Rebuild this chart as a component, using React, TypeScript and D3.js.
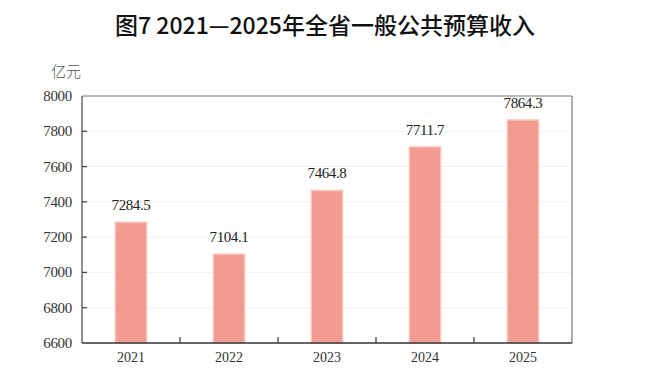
import React from "react";
import * as d3 from "d3";

const years = ["2021", "2022", "2023", "2024", "2025"];
const revenue = [7284.5, 7104.1, 7464.8, 7711.7, 7864.3];
const yTicks = [6600, 6800, 7000, 7200, 7400, 7600, 7800, 8000];
const title = "图7 2021—2025年全省一般公共预算收入";
const unitLabel = "亿元";

const W = 652;
const H = 388;
const m = { left: 82, right: 80, top: 96, bottom: 45 };

export default function App() {
  const x = d3
    .scaleBand<string>()
    .domain(years)
    .range([m.left, W - m.right]);
  const y = d3
    .scaleLinear()
    .domain([6600, 8000])
    .range([H - m.bottom, m.top]);
  const bw = x.bandwidth() * 0.32;
  const serif = "Liberation Serif, DejaVu Serif, serif";
  const cjk = "Noto Sans CJK SC, sans-serif";
  const x0 = m.left;
  const x1 = W - m.right;
  const yb = y(6600);
  const yt = y(8000);
  const boundaries = years.slice(1).map((yr) => x(yr) as number);

  return (
    <div style={{ position: "absolute", left: 0, top: 0 }}>
      <svg width={W} height={H} style={{ display: "block", background: "#fff" }}>
        <text
          x={325}
          y={34}
          textAnchor="middle"
          style={{ fontFamily: cjk, fontWeight: 500, fontSize: 23 }}
          fill="#111"
        >
          {title}
        </text>
        <text x={51} y={77} style={{ fontFamily: cjk, fontWeight: 300, fontSize: 15 }} fill="#555">
          {unitLabel}
        </text>
        {yTicks.slice(1, -1).map((t) => (
          <line key={"g" + t} x1={x0} x2={x1} y1={y(t)} y2={y(t)} stroke="#eef2f6" strokeWidth={1} />
        ))}
        {years.map((yr, i) => {
          const cx = (x(yr) as number) + x.bandwidth() / 2;
          return (
            <g key={yr}>
              <rect
                x={cx - bw / 2}
                y={y(revenue[i])}
                width={bw}
                height={yb - y(revenue[i])}
                fill="#f29b90"
                stroke="#f8c7c0"
                strokeWidth={1.5}
              />
              <text
                x={cx}
                y={y(revenue[i]) - 12}
                textAnchor="middle"
                style={{ fontFamily: serif, fontSize: 15, letterSpacing: -0.4 }}
                fill="#222"
              >
                {revenue[i].toFixed(1)}
              </text>
              <text
                x={cx}
                y={yb + 19}
                textAnchor="middle"
                style={{ fontFamily: serif, fontSize: 14 }}
                fill="#333"
              >
                {yr}
              </text>
            </g>
          );
        })}
        <line x1={x0} x2={x1} y1={yt} y2={yt} stroke="#777" strokeWidth={1.2} />
        <line x1={x1} x2={x1} y1={yt} y2={yb} stroke="#777" strokeWidth={1.2} />
        <line x1={x0} x2={x0} y1={yt} y2={yb} stroke="#555" strokeWidth={1.3} />
        <line x1={x0} x2={x1} y1={yb} y2={yb} stroke="#333" strokeWidth={1.3} />
        {yTicks.map((t) => (
          <g key={"t" + t}>
            {t !== 6600 && t !== 8000 && (
              <line x1={x0} x2={x0 + 5} y1={y(t)} y2={y(t)} stroke="#444" strokeWidth={1.3} />
            )}
            <text
              x={72}
              y={y(t) + 5}
              textAnchor="end"
              style={{ fontFamily: serif, fontSize: 15, letterSpacing: -0.3 }}
              fill="#333"
            >
              {t}
            </text>
          </g>
        ))}
        {boundaries.map((bx, i) => (
          <line key={"xb" + i} x1={bx} x2={bx} y1={yb} y2={yb - 6} stroke="#444" strokeWidth={1.3} />
        ))}
      </svg>
    </div>
  );
}
